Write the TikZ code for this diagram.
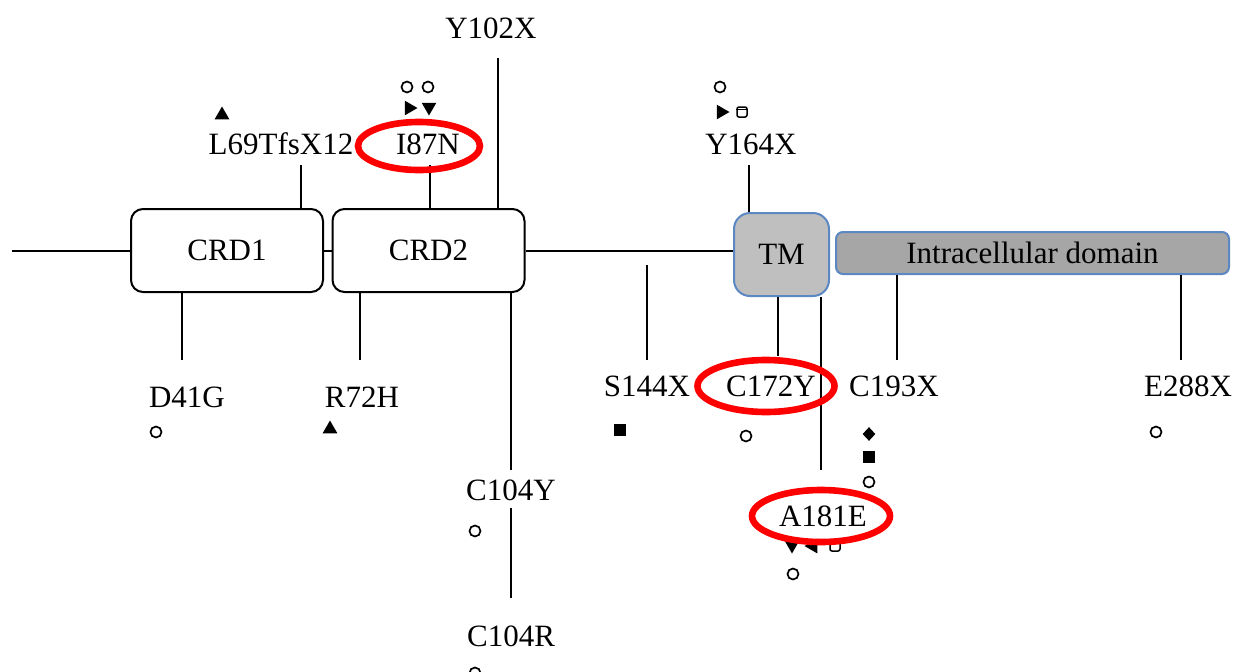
\documentclass[tikz,border=0pt]{standalone}
\usepackage{fontspec}
\setmainfont{Liberation Serif}
\usetikzlibrary{shapes.geometric}
\definecolor{tmfill}{HTML}{BFBFBF}
\definecolor{icfill}{HTML}{A6A6A6}
\definecolor{bordblue}{HTML}{5B87C2}
\begin{document}
\begin{tikzpicture}[x=0.5pt,y=-0.5pt,
  lbl/.style={font=\fontsize{15.5}{19}\selectfont, inner sep=0pt},
  dom/.style={draw, line width=1pt, rounded corners=6pt, font=\fontsize{15.5}{19}\selectfont,
    minimum width=96pt, minimum height=41.5pt, inner sep=0pt, fill=white},
  mainline/.style={line width=1.2pt},
  conn/.style={line width=0.8pt},
  redring/.style={ellipse, draw=red, line width=3.3pt, inner sep=0pt},
  ocirc/.style={circle, draw, line width=0.85pt, minimum size=5.5pt, inner sep=0pt},
  tri/.style={regular polygon, regular polygon sides=3, fill=black, minimum size=8.5pt, inner sep=0pt},
  triR/.style={tri, shape border rotate=-90},
  triD/.style={tri, shape border rotate=180},
  triL/.style={tri, shape border rotate=90},
  fsq/.style={rectangle, fill=black, minimum size=6pt, inner sep=0pt},
  fdia/.style={diamond, fill=black, minimum width=6.5pt, minimum height=7pt, inner sep=0pt},
  osq/.style={rectangle, draw, line width=0.75pt, rounded corners=1pt, minimum width=5pt, minimum height=5pt, inner sep=0pt}
]
\useasboundingbox[fill=white] (0,0) rectangle (1239,671);

% domains
\node[dom] (crd1) at (227,250.5) {CRD1};
\node[dom] (crd2) at (428.5,250.5) {CRD2};
\node[dom, draw=bordblue, fill=tmfill, rounded corners=8pt, minimum width=47.5pt] (tm) at (781.5,254.5) {TM};
\node[dom, draw=bordblue, fill=icfill, rounded corners=3.5pt, minimum width=196.5pt, minimum height=21pt] (ic) at (1032.5,253) {Intracellular domain};

% backbone
\coordinate (start) at (12,251);
\draw[mainline] (start) -- (crd1.west |- start);
\draw[mainline] (crd1.east |- start) -- (crd2.west |- start);
\draw[mainline] (crd2.east |- start) -- (tm.west |- start);

% labels
\node[lbl] (y102x) at (491,28) {Y102X};
\node[lbl] (l69) at (281,144) {L69TfsX12};
\node[lbl] (i87n) at (428,144) {I87N};
\node[lbl] (y164x) at (751,144) {Y164X};
\node[lbl] (d41g) at (187,397) {D41G};
\node[lbl] (r72h) at (362,397) {R72H};
\node[lbl] (s144x) at (647,386) {S144X};
\node[lbl] (c172y) at (771,386) {C172Y};
\node[lbl] (c193x) at (894,386) {C193X};
\node[lbl] (e288x) at (1188,386) {E288X};
\node[lbl] (c104y) at (511,490) {C104Y};
\node[lbl] (a181e) at (823,516) {A181E};
\node[lbl] (c104r) at (511,636) {C104R};

% line end points
\coordinate (pY102) at (498,58);
\coordinate (pL69) at (301,165);
\coordinate (pI87) at (430,165);
\coordinate (pY164) at (749,165);
\coordinate (pD41) at (182,360);
\coordinate (pR72) at (360,360);
\coordinate (pS144a) at (647,265);
\coordinate (pS144b) at (647,360);
\coordinate (pC172) at (778,356);
\coordinate (pA181) at (821,470);
\coordinate (pC193) at (897,360);
\coordinate (pE288) at (1181,360);
\coordinate (pC104a) at (511,470);
\coordinate (pC104b) at (511,508);
\coordinate (pC104c) at (511,598);

% connectors
\draw[conn] (pY102) -- (crd2.north -| pY102);
\draw[conn] (pL69) -- (crd1.north -| pL69);
\draw[conn] (pI87) -- (crd2.north -| pI87);
\draw[conn] (pY164) -- (tm.north -| pY164);
\draw[conn] (crd1.south -| pD41) -- (pD41);
\draw[conn] (crd2.south -| pR72) -- (pR72);
\draw[conn] (pS144a) -- (pS144b);
\draw[conn] (tm.south -| pC172) -- (pC172);
\draw[conn] (tm.south -| pA181) -- (pA181);
\draw[conn] (ic.south -| pC193) -- (pC193);
\draw[conn] (ic.south -| pE288) -- (pE288);
\draw[conn] (crd2.south -| pC104a) -- (pC104a);
\draw[conn] (pC104b) -- (pC104c);

% symbols
\node[tri] (s1) at (222,115) {};
\node[ocirc] (s2) at (407,87) {};
\node[ocirc] (s3) at (428,87) {};
\node[triR] (s4) at (409,108) {};
\node[triD] (s5) at (429,107) {};
\node[ocirc] (s6) at (720,87) {};
\node[triR] (s7) at (721,112) {};
\node[osq] (s8) at (742,112) {};
\draw[line width=0.75pt] ([yshift=-1.5pt]s8.north west) -- ([yshift=-1.5pt]s8.north east);
\node[ocirc] (s9) at (156,432) {};
\node[tri] (s10) at (330,429) {};
\node[fsq] (s11) at (620,430) {};
\node[ocirc] (s12) at (746,436) {};
\node[fdia] (s13) at (869,434) {};
\node[fsq] (s14) at (869,457) {};
\node[ocirc] (s15) at (869,482) {};
\node[ocirc] (s16) at (1156,432) {};
\node[ocirc] (s17) at (475,531) {};
\node[triD] (s18) at (792,545) {};
\node[triL] (s19) at (813,546) {};
\node[osq] (s20) at (835,546) {};
\node[ocirc] (s21) at (793,574) {};
\node[ocirc] (s22) at (475,673) {};

% red highlights
\node[redring, minimum width=61pt, minimum height=24pt] (e1) at (419,146) {};
\node[redring, minimum width=68.5pt, minimum height=26pt] (e2) at (766,386) {};
\node[redring, minimum width=69pt, minimum height=26pt] (e3) at (821,516) {};
\end{tikzpicture}
\end{document}
